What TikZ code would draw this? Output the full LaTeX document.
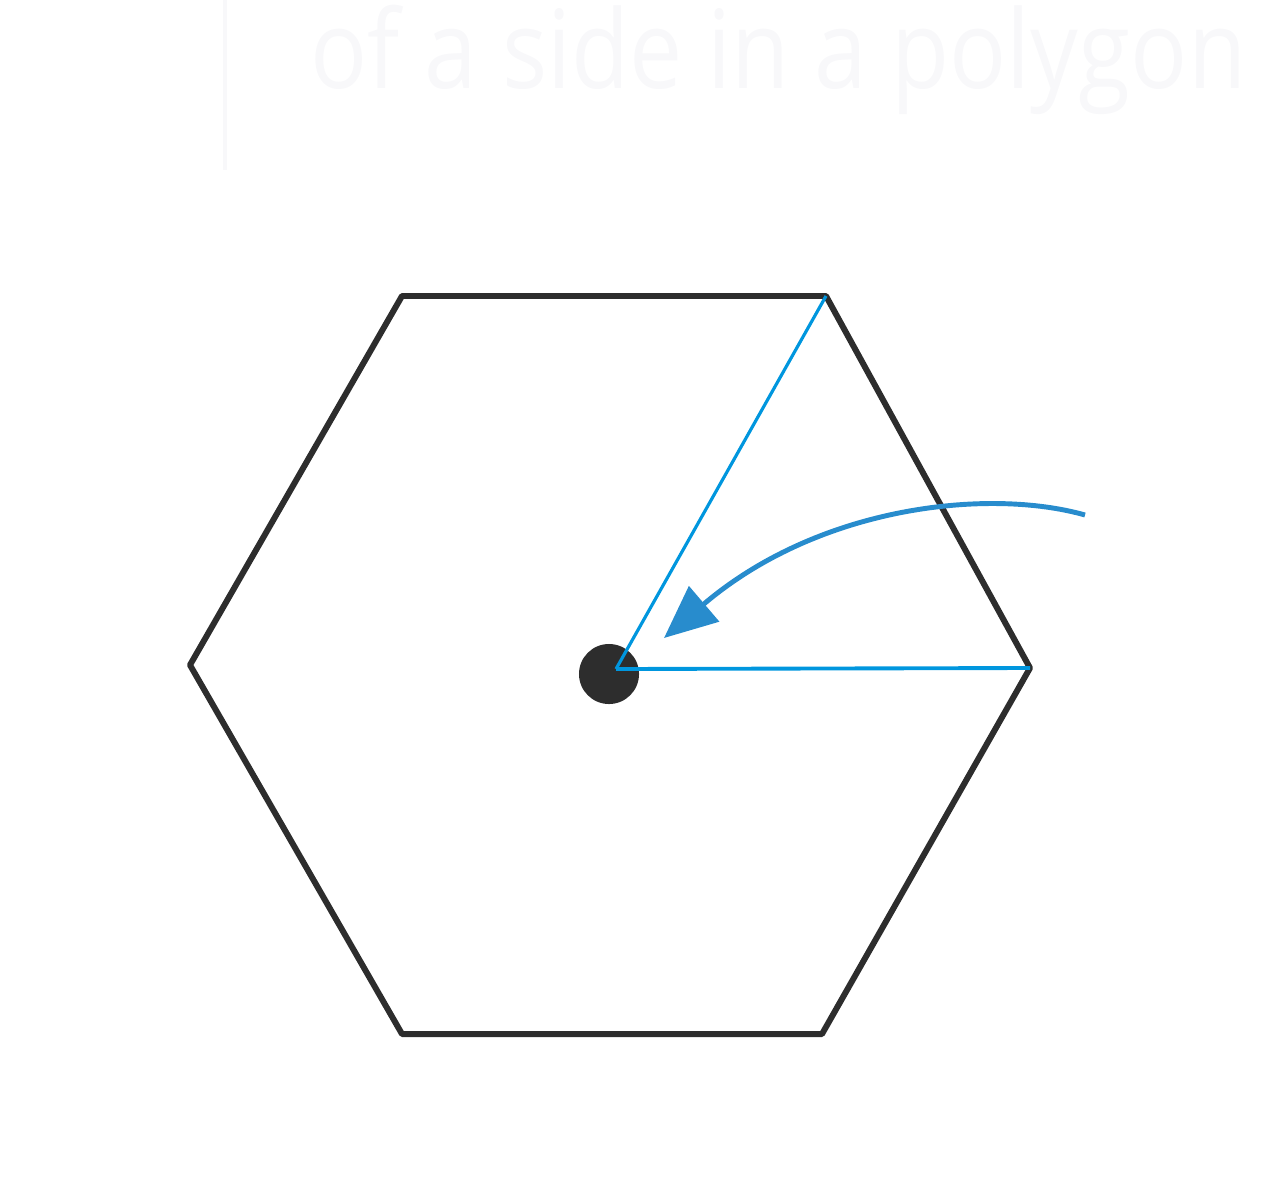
\documentclass[tikz,border=0pt]{standalone}
\usepackage{fontspec}
\setmainfont{Open Sans}
\usetikzlibrary{arrows.meta}
\definecolor{hexgray}{RGB}{45,45,45}
\definecolor{radblue}{RGB}{0,150,222}
\definecolor{arrblue}{RGB}{40,140,205}
\definecolor{ghost}{RGB}{248,248,250}
\tikzset{
  hexside/.style={draw=hexgray, line width=1.7pt, line join=round, line cap=round},
  radius line/.style={draw=radblue, line width=1.1pt},
  curvearrow/.style={draw=arrblue, line width=1.4pt, -{Triangle[length=15pt,width=13pt]}},
  ghosttext/.style={text=ghost, font=\fontsize{31}{36}\selectfont, anchor=base west, inner sep=0pt}
}
\begin{document}
\begin{tikzpicture}[x=0.01cm,y=-0.01cm]
\useasboundingbox (0,0) rectangle (1276,1200);
\node[ghosttext] (ghost) at (310,88) {\scalebox{0.87}[1]{of a side in a polygon}};
\draw[ghost, line width=1pt] (225,0) -- (225,170);
% vertices
\coordinate (vtl) at (402,296);
\coordinate (vtr) at (826,296);
\coordinate (vr)  at (1030,668);
\coordinate (vbr) at (822,1034);
\coordinate (vbl) at (402,1034);
\coordinate (vl)  at (190,665);
\node[circle, fill=hexgray, minimum size=0.6cm, inner sep=0pt] (ctr) at (609,674) {};
\coordinate (c) at (616,669);
\draw[hexside] (vtl) -- (vtr) -- (vr) -- (vbr) -- (vbl) -- (vl) -- cycle;
\draw[radius line, line width=0.9pt] (c) -- (vtr);
\draw[radius line] (c) -- (vr);
\coordinate (astart) at (1085,515);
\coordinate (aend) at (664,638);
\draw[curvearrow] (astart) .. controls (990,488) and (820,505) .. (aend);
\end{tikzpicture}
\end{document}
